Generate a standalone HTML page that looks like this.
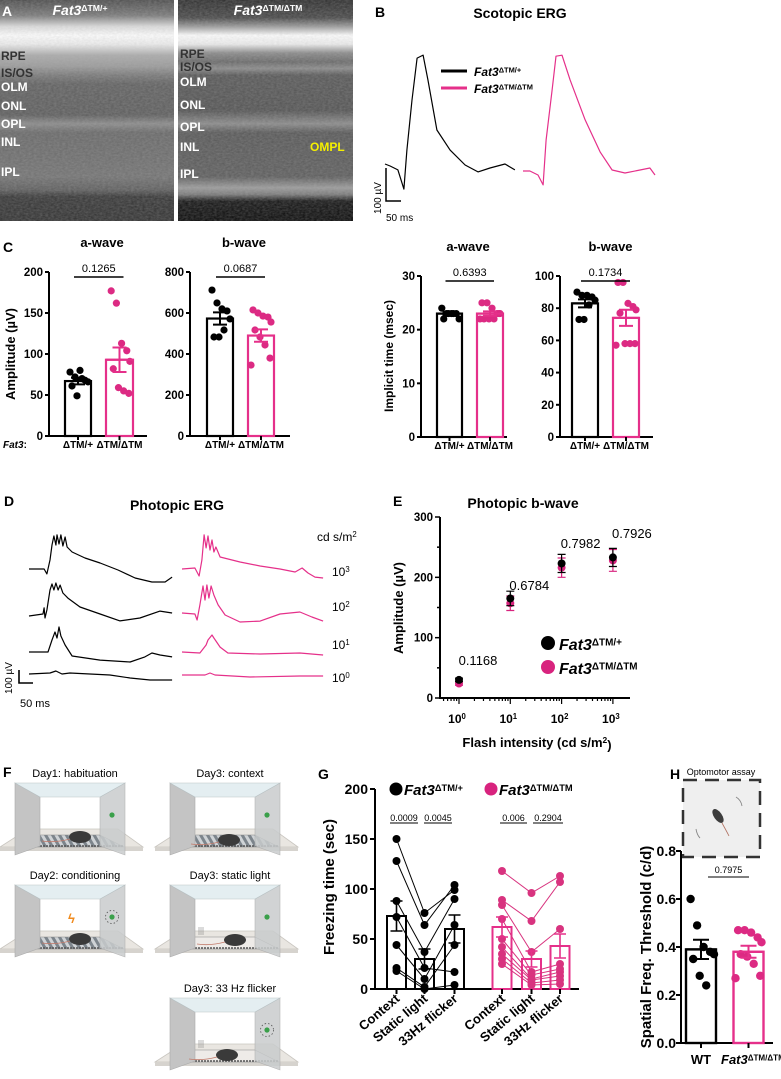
<!DOCTYPE html>
<html><head><meta charset="utf-8">
<style>
html,body{margin:0;padding:0;background:#fff;}
svg{display:block;font-family:"Liberation Sans",sans-serif;}
</style></head>
<body>
<svg id="fig" width="781" height="1079" viewBox="0 0 781 1079" xmlns="http://www.w3.org/2000/svg">
<defs>
<linearGradient id="gL" x1="0" y1="0" x2="0" y2="1">
<stop offset="0" stop-color="#4a4a4a"/><stop offset="0.07" stop-color="#777"/><stop offset="0.12" stop-color="#ddd"/><stop offset="0.16" stop-color="#fff"/><stop offset="0.2" stop-color="#eee"/><stop offset="0.25" stop-color="#aaa"/><stop offset="0.3" stop-color="#999"/><stop offset="0.34" stop-color="#777"/><stop offset="0.38" stop-color="#5e5e5e"/><stop offset="0.52" stop-color="#5a5a5a"/><stop offset="0.56" stop-color="#888"/><stop offset="0.6" stop-color="#666"/><stop offset="0.7" stop-color="#6a6a6a"/><stop offset="0.8" stop-color="#707070"/><stop offset="0.86" stop-color="#5a5a5a"/><stop offset="0.89" stop-color="#333"/><stop offset="1" stop-color="#2e2e2e"/>
</linearGradient>
<linearGradient id="gR" x1="0" y1="0" x2="0" y2="1">
<stop offset="0" stop-color="#2a2a2a"/><stop offset="0.08" stop-color="#444"/><stop offset="0.12" stop-color="#999"/><stop offset="0.16" stop-color="#fff"/><stop offset="0.2" stop-color="#eee"/><stop offset="0.24" stop-color="#888"/><stop offset="0.28" stop-color="#666"/><stop offset="0.31" stop-color="#888"/><stop offset="0.34" stop-color="#555"/><stop offset="0.5" stop-color="#505050"/><stop offset="0.56" stop-color="#888"/><stop offset="0.6" stop-color="#555"/><stop offset="0.8" stop-color="#5a5a5a"/><stop offset="0.85" stop-color="#999"/><stop offset="0.88" stop-color="#777"/><stop offset="0.91" stop-color="#111"/><stop offset="1" stop-color="#050505"/>
</linearGradient>
<filter id="noise" x="0" y="0" width="1" height="1">
<feTurbulence type="fractalNoise" baseFrequency="0.35 0.6" numOctaves="2" seed="4"/>
<feColorMatrix type="matrix" values="0 0 0 0 0.5 0 0 0 0 0.5 0 0 0 0 0.5 0 0 0 0.35 0"/>
<feComposite in2="SourceGraphic" operator="in"/>
</filter>
<pattern id="grid" width="6" height="6" patternUnits="userSpaceOnUse" patternTransform="rotate(-30)">
<rect width="6" height="6" fill="#cfd3d6"/><rect width="3" height="6" fill="#7d858c"/>
</pattern>
</defs>
</svg>
<script>
const NS='http://www.w3.org/2000/svg';
const svg=document.getElementById('fig');
function el(tag,attrs,parent){const e=document.createElementNS(NS,tag);for(const k in attrs)e.setAttribute(k,attrs[k]);(parent||svg).appendChild(e);return e;}
function txt(x,y,s,attrs,parent){const e=el('text',Object.assign({x:x,y:y},attrs||{}),parent);e.innerHTML=s;return e;}
const PINK='#e5308a';
const SUP_P='Fat3<tspan font-size="0.62em" dy="-0.45em" font-style="normal">ΔTM/+</tspan>';
const SUP_H='Fat3<tspan font-size="0.62em" dy="-0.45em" font-style="normal">ΔTM/ΔTM</tspan>';

/* ---------- DATA ---------- */
const scoT_wt=[0,17,43,63,73,90,107,127,143,173,217,267,310,350,400,433];
const scoV_wt=[0,-6,-18,-76,42,194,321,330,255,103,42,-3,-24,-12,0,-18];
const scoT_ko=[0,23,50,67,77,97,110,130,157,207,257,297,340,390,423,440];
const scoV_ko=[0,0,-12,-42,94,245,348,351,276,155,58,3,-6,3,9,-12];
const aAmp_wt=[78,72,80,68,66,61,49,70];
const aAmp_ko=[177,162,113,104,91,82,59,55,52];
const aAmpMean=[67,93];const aAmpSem=[4,15];
const bAmp_wt=[712,649,620,610,571,483,483,517];
const bAmp_ko=[615,600,585,580,556,517,483,444,380,346];
const bAmpMean=[573,490];const bAmpSem=[30,30];
const aImp_wt=[24,23,23,23,22,22,23,23];
const aImp_ko=[25,25,24,23,23,22,22,22,23,22];
const aImpMean=[23,23];const aImpSem=[0.3,0.4];
const bImp_wt=[90,88,88,87,85,73,73,82];
const bImp_ko=[96,96,83,81,79,77,58,58,58,57];
const bImpMean=[83,74];const bImpSem=[2.5,5];
const phT_wt3=[0,54,64,75,82,89,96,100,107,114,121,129,136,154,200,254,318,379,439,486,511];
const phV_wt3=[0,0,-38,69,185,254,185,262,192,262,177,246,169,131,85,46,-8,-69,-100,-100,-62];
const phT_wt2=[0,50,54,57,64,75,82,89,96,104,111,121,139,182,254,325,396,468,511];
const phV_wt2=[0,15,62,-15,46,200,246,200,254,200,238,177,138,69,15,-38,-15,38,23];
const phT_wt1=[0,68,82,93,100,107,114,129,154,254,361,414,439,468,511];
const phV_wt1=[0,0,92,154,108,192,123,54,-31,-62,-77,-38,-8,-23,-38];
const phT_wt0=[0,75,96,118,146,289,361,432,511];
const phV_wt0=[0,8,23,0,8,-8,-31,-46,-46];
const phT_ko3=[0,46,61,71,79,86,93,100,107,114,121,136,207,279,350,404,429,450,475,504];
const phV_ko3=[0,8,-54,69,262,162,254,146,223,131,169,92,54,23,0,-23,8,-31,-62,-69];
const phT_ko2=[0,46,54,64,75,82,89,96,104,114,129,154,207,279,350,421,464,504];
const phV_ko2=[0,-8,-54,62,208,100,215,115,208,138,62,-15,-69,-62,-8,8,-31,-62];
const phT_ko1=[0,64,86,93,107,114,136,164,279,421,504];
const phV_ko1=[0,-8,54,92,131,108,38,-8,-15,-8,-23];
const phT_ko0=[0,82,100,118,243,421,504];
const phV_ko0=[0,0,15,0,-15,-8,-8];
const eIntensity=[1,10,100,1000];
const eMean_wt=[30,165,223,233];const eSem_wt=[3,12,15,15];
const eMean_ko=[24,157,216,228];const eSem_ko=[3,12,16,18];
const ePvals=['0.1168','0.6784','0.7982','0.7926'];
const gCats=['Context','Static light','33Hz flicker'];
const gCtx_wt=[150,128,88,72,44,21,18];
const gSta_wt=[76,64,37,21,10,2,0];
const gFlk_wt=[99,104,90,17,64,44,4];
const gMean_wt=[73,30,60];const gSem_wt=[15,10,14];
const gCtx_ko=[118,89,84,70,50,42,35,30,25];
const gSta_ko=[96,68,37,17,14,10,9,6,4];
const gFlk_ko=[113,107,60,25,20,17,13,9,5];
const gMean_ko=[62,30,43];const gSem_ko=[10,8,12];
const gP=['0.0009','0.0045','0.006','0.2904'];
const h_wt=[0.6,0.49,0.4,0.38,0.37,0.35,0.28,0.24];
const h_ko=[0.47,0.47,0.46,0.44,0.42,0.37,0.36,0.33,0.28,0.27];
const hMean=[0.39,0.38];const hSem=[0.04,0.025];
const jit=[-8,-3,2,7,10,-6,-1,4,9,-10];

/* ---------- PANEL A ---------- */
let r,t,g;
r=el('rect',{x:0,y:0,width:174,height:221,fill:'url(#gL)'});


r=el('rect',{x:0,y:0,width:174,height:221,fill:'#fff',filter:'url(#noise)'});


r=el('rect',{x:178,y:0,width:175,height:221,fill:'url(#gR)'});


r=el('rect',{x:178,y:0,width:175,height:221,fill:'#fff',filter:'url(#noise)'});


t=txt(2,16,'A',{'font-weight':'bold','font-size':14,fill:'#fff'});


t=txt(80,15,SUP_P,{'font-weight':'bold','font-style':'italic','font-size':14,fill:'#fff','text-anchor':'middle'});


t=txt(268,15,SUP_H,{'font-weight':'bold','font-style':'italic','font-size':14,fill:'#fff','text-anchor':'middle'});


const layersL=[['RPE',55,'#333'],['IS/OS',72,'#333'],['OLM',86,'#fff'],['ONL',105,'#fff'],['OPL',123,'#fff'],['INL',141,'#fff'],['IPL',171,'#fff']];
const layersR=[['RPE',53,'#333'],['IS/OS',66,'#333'],['OLM',81,'#fff'],['ONL',104,'#fff'],['OPL',126,'#fff'],['INL',146,'#fff'],['IPL',173,'#fff']];
layersL.forEach(l=>{t=txt(1,l[1]+5,l[0],{'font-weight':'bold','font-size':12,fill:l[2]});

});
layersR.forEach(l=>{t=txt(180,l[1]+5,l[0],{'font-weight':'bold','font-size':12,fill:l[2]});

});
t=txt(310,151,'OMPL',{'font-weight':'bold','font-size':12,fill:'#f5f000'});



/* ---------- PANEL B ---------- */
t=txt(375,17,'B',{'font-weight':'bold','font-size':14});


t=txt(520,18,'Scotopic ERG',{'font-weight':'bold','font-size':14,'text-anchor':'middle'});


function trace(T,V,x0,y0,sx,sy,color,name){
  const d=T.map((tt,i)=>(i?'L':'M')+(x0+tt*sx).toFixed(1)+','+(y0-V[i]*sy).toFixed(1)).join(' ');
  const p=el('path',{d:d,fill:'none',stroke:color,'stroke-width':1.2,'stroke-linejoin':'round'});
  
  
  return p;
}
trace(scoT_wt,scoV_wt,385,164,0.3,0.33,'#000','scotopic-trace-control');
trace(scoT_ko,scoV_ko,523,171,0.3,0.33,PINK,'scotopic-trace-mutant');
r=el('line',{x1:441,y1:71,x2:467,y2:71,stroke:'#000','stroke-width':3});


t=txt(474,76,SUP_P,{'font-weight':'bold','font-style':'italic','font-size':12});


r=el('line',{x1:441,y1:88,x2:467,y2:88,stroke:PINK,'stroke-width':3});


t=txt(474,93,SUP_H,{'font-weight':'bold','font-style':'italic','font-size':12});


r=el('path',{d:'M386,168 L386,201 L401,201',fill:'none',stroke:'#000','stroke-width':1.5});


t=txt(0,0,'100 µV',{'font-size':10,'text-anchor':'middle',transform:'translate(381,198) rotate(-90)'});


t=txt(386,221,'50 ms',{'font-size':10});



/* ---------- PANEL C ---------- */
t=txt(3,252,'C',{'font-weight':'bold','font-size':14});


function barPanel(o){
  const ys=v=>o.yBot-(v/o.max)*(o.yBot-o.yTop);
  g=el('g',{});
  
  
  let e=txt((o.ax+o.axEnd)/2+4,o.yTop-25,o.title,{'font-weight':'bold','font-size':13,'text-anchor':'middle'},g);
  
  
  e=el('line',{x1:o.ax,y1:o.yTop,x2:o.ax,y2:o.yBot+1,stroke:'#000','stroke-width':2},g);
  
  
  e=el('line',{x1:o.ax-1,y1:o.yBot,x2:o.axEnd,y2:o.yBot,stroke:'#000','stroke-width':2},g);
  
  
  o.ticks.forEach(v=>{
    e=el('line',{x1:o.ax-4,y1:ys(v),x2:o.ax,y2:ys(v),stroke:'#000','stroke-width':2},g);
    
    
    e=txt(o.ax-6,ys(v)+4,String(v),{'font-weight':'bold','font-size':11.5,'text-anchor':'end'},g);
    
    
  });
  o.bars.forEach((b,i)=>{
    const c=i?PINK:'#000';
    e=el('rect',{x:b.cx-b.w/2,y:ys(o.mean[i]),width:b.w,height:o.yBot-ys(o.mean[i]),fill:'none',stroke:c,'stroke-width':2.2},g);
    
    
    e=el('line',{x1:b.cx,y1:o.yBot,x2:b.cx,y2:o.yBot+4,stroke:'#000','stroke-width':2},g);
    
    
    e=txt(b.cx,o.yBot+12,i?'ΔTM/ΔTM':'ΔTM/+',{'font-weight':'bold','font-size':10,'text-anchor':'middle'},g);
    
    
    const pts=i?o.ko:o.wt;
    pts.forEach((v,k)=>{
      e=el('circle',{cx:b.cx+jit[k%jit.length]*b.w/26,cy:ys(v),r:3.6,fill:i?'#dc2a83':'#000'},g);
      
      
    });
    const m=ys(o.mean[i]),hi=ys(o.mean[i]+o.sem[i]),lo=ys(o.mean[i]-o.sem[i]);
    e=el('path',{d:`M${b.cx},${lo} L${b.cx},${hi} M${b.cx-7},${hi} L${b.cx+7},${hi} M${b.cx-7},${lo} L${b.cx+7},${lo} M${b.cx-b.w/2},${m} L${b.cx+b.w/2},${m}`,stroke:c,'stroke-width':2,fill:'none'},g);
    
    
  });
  const x1=o.bars[0].cx-4,x2=o.bars[1].cx+4;
  e=el('line',{x1:x1,y1:o.yTop+5,x2:x2,y2:o.yTop+5,stroke:'#000','stroke-width':1.5},g);
  
  
  e=txt((x1+x2)/2,o.yTop,o.p,{'font-size':11,'text-anchor':'middle'},g);
  
  
}
barPanel({name:'a-wave-amplitude-chart',title:'a-wave',ax:49,axEnd:147,yTop:272,yBot:436,max:200,ticks:[0,50,100,150,200],bars:[{cx:78,w:26},{cx:119.5,w:27}],wt:aAmp_wt,ko:aAmp_ko,mean:aAmpMean,sem:aAmpSem,p:'0.1265'});
barPanel({name:'b-wave-amplitude-chart',title:'b-wave',ax:190,axEnd:290,yTop:272,yBot:436,max:800,ticks:[0,200,400,600,800],bars:[{cx:220,w:26},{cx:261,w:26}],wt:bAmp_wt,ko:bAmp_ko,mean:bAmpMean,sem:bAmpSem,p:'0.0687'});
barPanel({name:'a-wave-implicit-chart',title:'a-wave',ax:421,axEnd:507,yTop:276,yBot:437,max:30,ticks:[0,10,20,30],bars:[{cx:449.5,w:25},{cx:490,w:26}],wt:aImp_wt,ko:aImp_ko,mean:aImpMean,sem:aImpSem,p:'0.6393'});
barPanel({name:'b-wave-implicit-chart',title:'b-wave',ax:560,axEnd:653,yTop:276,yBot:437,max:100,ticks:[0,20,40,60,80,100],bars:[{cx:585,w:26},{cx:626,w:26}],wt:bImp_wt,ko:bImp_ko,mean:bImpMean,sem:bImpSem,p:'0.1734'});
t=txt(0,0,'Amplitude (µV)',{'font-weight':'bold','font-size':13,'text-anchor':'middle',transform:'translate(15,354) rotate(-90)'});


t=txt(0,0,'Implicit time (msec)',{'font-weight':'bold','font-size':12,'text-anchor':'middle',transform:'translate(393,356) rotate(-90)'});


t=txt(3,448,'Fat3',{'font-weight':'bold','font-style':'italic','font-size':10});
t.innerHTML='Fat3<tspan font-style="normal">:</tspan>';



/* ---------- PANEL D ---------- */
t=txt(4,506,'D',{'font-weight':'bold','font-size':14});


t=txt(177,510,'Photopic ERG',{'font-weight':'bold','font-size':14,'text-anchor':'middle'});


trace(phT_wt3,phV_wt3,29,569,0.28,0.13,'#000','photopic-trace-control-1000');
trace(phT_wt2,phV_wt2,29,616,0.28,0.13,'#000','photopic-trace-control-100');
trace(phT_wt1,phV_wt1,29,652,0.28,0.13,'#000','photopic-trace-control-10');
trace(phT_wt0,phV_wt0,29,674,0.28,0.13,'#000','photopic-trace-control-1');
trace(phT_ko3,phV_ko3,182,569,0.28,0.13,PINK,'photopic-trace-mutant-1000');
trace(phT_ko2,phV_ko2,182,613,0.28,0.13,PINK,'photopic-trace-mutant-100');
trace(phT_ko1,phV_ko1,182,652,0.28,0.13,PINK,'photopic-trace-mutant-10');
trace(phT_ko0,phV_ko0,182,675,0.28,0.13,PINK,'photopic-trace-mutant-1');
t=txt(317,541,'cd s/m<tspan font-size="0.65em" dy="-0.5em">2</tspan>',{'font-size':12});


[['3',576],['2',611],['1',649],['0',682]].forEach(a=>{
  t=txt(332,a[1],'10<tspan font-size="0.65em" dy="-0.5em">'+a[0]+'</tspan>',{'font-size':12});
  
  
});
r=el('path',{d:'M19,670 L19,683 L33,683',fill:'none',stroke:'#000','stroke-width':1.6});


t=txt(0,0,'100 µV',{'font-size':10,'text-anchor':'middle',transform:'translate(12,678) rotate(-90)'});


t=txt(20,707,'50 ms',{'font-size':11});



/* ---------- PANEL E ---------- */
t=txt(393,506,'E',{'font-weight':'bold','font-size':14});


t=txt(523,508,'Photopic b-wave',{'font-weight':'bold','font-size':14,'text-anchor':'middle'});


const eY=v=>698-v*181/300;
const eX=v=>459+Math.log10(v)*51.3;
r=el('line',{x1:440,y1:517,x2:440,y2:699,stroke:'#000','stroke-width':2});


r=el('line',{x1:439,y1:698,x2:630,y2:698,stroke:'#000','stroke-width':2});


[0,50,100,150,200,250,300].forEach(v=>{
  r=el('line',{x1:v%100?437:435,y1:eY(v),x2:440,y2:eY(v),stroke:'#000','stroke-width':1.5});
  
  
  if(v%100===0){t=txt(433,eY(v)+4,String(v),{'font-weight':'bold','font-size':11.5,'text-anchor':'end'});
  
  }
});
for(let dec=-1;dec<4;dec++){for(let m=1;m<10;m++){const v=m*Math.pow(10,dec);const x=eX(v);if(x<443||x>628)continue;
  r=el('line',{x1:x,y1:698,x2:x,y2:m===1?704:701,stroke:'#000','stroke-width':1.2});
  
  }}
eIntensity.forEach((v,i)=>{
  t=txt(eX(v)-2,723,'10<tspan font-size="0.65em" dy="-0.5em">'+Math.log10(v)+'</tspan>',{'font-weight':'bold','font-size':12,'text-anchor':'middle'});
  
  
});
t=txt(537,747,'Flash intensity (cd s/m<tspan font-size="0.65em" dy="-0.5em">2</tspan><tspan dy="0.5em">)</tspan>',{'font-weight':'bold','font-size':13,'text-anchor':'middle'});


t=txt(0,0,'Amplitude (µV)',{'font-weight':'bold','font-size':13,'text-anchor':'middle',transform:'translate(403,608) rotate(-90)'});


function errPts(means,sems,color,name){
  means.forEach((m,i)=>{const x=eX(eIntensity[i]);
    r=el('path',{d:`M${x},${eY(m-sems[i])} L${x},${eY(m+sems[i])} M${x-4},${eY(m-sems[i])} L${x+4},${eY(m-sems[i])} M${x-4},${eY(m+sems[i])} L${x+4},${eY(m+sems[i])}`,stroke:color,'stroke-width':1.2,fill:'none'});
    
    
    r=el('circle',{cx:x,cy:eY(m),r:4,fill:color});
    
    
  });
}
errPts(eMean_ko,eSem_ko,'#d8237e','point-mutant');
errPts(eMean_wt,eSem_wt,'#000','point-control');
const ePy=[660,585,543,533];
ePvals.forEach((p,i)=>{
  t=txt(eX(eIntensity[i])+19,ePy[i]+5,p,{'font-size':13,'text-anchor':'middle'});
  
  
});
r=el('circle',{cx:548,cy:643,r:7,fill:'#000'});


t=txt(559,650,SUP_P,{'font-weight':'bold','font-style':'italic','font-size':16});


r=el('circle',{cx:548,cy:667,r:7,fill:'#d8237e'});


t=txt(559,674,SUP_H,{'font-weight':'bold','font-style':'italic','font-size':16});



/* ---------- PANEL F ---------- */
t=txt(3,777,'F',{'font-weight':'bold','font-size':14});


function box(ox,oy,label,lx,opt){
  g=el('g',{transform:`translate(${ox},${oy})`});
  
  
  let e=txt(lx,-6,label,{'font-size':11,'text-anchor':'middle'},g);
  
  
  e=el('polygon',{points:'0,64 28,46 118,46 143,64',fill:'#e9e6e1',stroke:'#c9c6c0','stroke-width':0.8},g);
  
  
  e=el('rect',{x:0,y:64,width:143,height:4,fill:'#d6d3ce'},g);
  
  
  e=el('polygon',{points:'40,52 100,52 124,64 15,64',fill:opt.grid?'url(#grid)':'#eeebe8',stroke:'#888','stroke-width':0.6},g);
  
  
  e=el('line',{x1:40,y1:63,x2:124,y2:63,stroke:'#555','stroke-width':1.5,'stroke-dasharray':'2,1'},g);
  
  
  e=el('polygon',{points:'15,0 40,14 40,63 15,72',fill:'#c4c4c4',stroke:'#aaa','stroke-width':0.6},g);
  
  
  e=el('polygon',{points:'100,14 125,0 125,72 100,63',fill:'#c9cccd',stroke:'#aaa','stroke-width':0.6,opacity:0.85},g);
  
  
  e=el('polygon',{points:'15,0 125,0 100,14 40,14',fill:'#e4eef1',stroke:'#b9c3c6','stroke-width':0.6},g);
  
  
  e=el('circle',{cx:112,cy:opt.dotY||32,r:2.6,fill:'#3aa04a'},g);
  
  
  if(opt.flicker){e=el('circle',{cx:112,cy:opt.dotY||32,r:6.5,fill:'none',stroke:'#555','stroke-width':0.8,'stroke-dasharray':'1.5,2'},g);
  
  }
  e=el('ellipse',{cx:opt.mx,cy:opt.my,rx:11,ry:6,fill:'#3a3a3a'},g);
  
  
  e=el('path',{d:`M${opt.mx-10},${opt.my+2} Q${opt.mx-25},${opt.my+6} ${opt.mx-38},${opt.my+4}`,stroke:'#c27a6a','stroke-width':0.8,fill:'none'},g);
  
  
  if(opt.shock){e=txt(opt.mx-12,opt.my-16,'ϟ',{'font-size':13,fill:'#f08a1c','font-weight':'bold'},g);
  
  }
  if(opt.speaker){e=el('path',{d:'M44,42 L44,50 M46,42 L46,50 M48,42 L48,50',stroke:'#888','stroke-width':0.6},g);
  
  }
}
box(0,783,'Day1: habituation',75,{grid:true,mx:80,my:54});
box(155,783,'Day3: context',75,{grid:true,mx:74,my:57});
box(0,885,'Day2: conditioning',75,{grid:true,mx:80,my:54,shock:true,flicker:true});
box(155,885,'Day3: static light',75,{grid:false,mx:80,my:55,speaker:true});
box(155,998,'Day3: 33 Hz flicker',75,{grid:false,mx:72,my:57,speaker:true,flicker:true});

/* ---------- PANEL G ---------- */
t=txt(318,779,'G',{'font-weight':'bold','font-size':14});


const gY=v=>989-v;
const gX_wt=[396.5,424.5,454.5],gX_ko=[502,531.5,560];
r=el('line',{x1:375,y1:789,x2:375,y2:990,stroke:'#000','stroke-width':2});


r=el('line',{x1:374,y1:989,x2:579,y2:989,stroke:'#000','stroke-width':2});


[0,50,100,150,200].forEach(v=>{
  r=el('line',{x1:370,y1:gY(v),x2:375,y2:gY(v),stroke:'#000','stroke-width':2});
  
  
  t=txt(368,gY(v)+5,String(v),{'font-weight':'bold','font-size':14,'text-anchor':'end'});
  
  
});
t=txt(0,0,'Freezing time (sec)',{'font-weight':'bold','font-size':15,'text-anchor':'middle',transform:'translate(334,887) rotate(-90)'});


function gGroup(X,ctx,sta,flk,mean,sem,color,ptColor,name){
  const cols=[ctx,sta,flk];
  mean.forEach((m,i)=>{
    r=el('rect',{x:X[i]-9.5,y:gY(m),width:19,height:989-gY(m),fill:'#fff',stroke:color,'stroke-width':2});
    
    
  });
  ctx.forEach((v,k)=>{
    r=el('polyline',{points:cols.map((c,i)=>X[i]+','+gY(c[k])).join(' '),fill:'none',stroke:ptColor,'stroke-width':1});
    
    
  });
  cols.forEach((c,i)=>c.forEach(v=>{
    r=el('circle',{cx:X[i],cy:gY(v),r:4,fill:ptColor});
    
    
  }));
  mean.forEach((m,i)=>{
    r=el('path',{d:`M${X[i]},${gY(m-sem[i])} L${X[i]},${gY(m+sem[i])} M${X[i]-6},${gY(m+sem[i])} L${X[i]+6},${gY(m+sem[i])} M${X[i]-6},${gY(m-sem[i])} L${X[i]+6},${gY(m-sem[i])} M${X[i]-9.5},${gY(m)} L${X[i]+9.5},${gY(m)}`,stroke:color,'stroke-width':1.6,fill:'none'});
    
    
    r=el('line',{x1:X[i],y1:989,x2:X[i],y2:994,stroke:'#000','stroke-width':2});
    
    
    t=txt(0,0,gCats[i],{'font-weight':'bold','font-size':13,'text-anchor':'end',transform:`translate(${X[i]+4},${1000}) rotate(-40)`});
    
    
  });
}
gGroup(gX_wt,gCtx_wt,gSta_wt,gFlk_wt,gMean_wt,gSem_wt,'#000','#000','control');
gGroup(gX_ko,gCtx_ko,gSta_ko,gFlk_ko,gMean_ko,gSem_ko,PINK,'#d8337f','mutant');
const gPx=[[390,418],[424,452],[500,527],[533,563]];
gP.forEach((p,i)=>{
  r=el('line',{x1:gPx[i][0],y1:823,x2:gPx[i][1],y2:823,stroke:'#000','stroke-width':1});
  
  
  t=txt((gPx[i][0]+gPx[i][1])/2,821,p,{'font-size':9,'text-anchor':'middle'});
  
  
});
r=el('circle',{cx:396,cy:789,r:6.5,fill:'#000'});


t=txt(404,795,SUP_P,{'font-weight':'bold','font-style':'italic','font-size':15});


r=el('circle',{cx:491,cy:789,r:6.5,fill:'#d8237e'});


t=txt(499,795,SUP_H,{'font-weight':'bold','font-style':'italic','font-size':15});



/* ---------- PANEL H ---------- */
t=txt(670,779,'H',{'font-weight':'bold','font-size':14});


r=el('rect',{x:683,y:780,width:77,height:77,fill:'#efefef',stroke:'#333','stroke-width':2.5,'stroke-dasharray':'14,8'});


t=txt(721,775,'Optomotor assay',{'font-size':9,'text-anchor':'middle'});


r=el('ellipse',{cx:718,cy:816,rx:4,ry:8,fill:'#3d3d3d',transform:'rotate(-35 718 816)'});


r=el('path',{d:'M722,823 Q727,832 729,836',stroke:'#b07060','stroke-width':0.8,fill:'none'});


r=el('path',{d:'M736,797 Q741,800 742,806 M700,838 Q697,835 696,829',stroke:'#888','stroke-width':0.9,fill:'none'});


const hY=v=>1043-v*240;
r=el('line',{x1:681,y1:851,x2:681,y2:1044,stroke:'#000','stroke-width':2});


r=el('line',{x1:680,y1:1043,x2:773,y2:1043,stroke:'#000','stroke-width':2});


[0,0.2,0.4,0.6,0.8].forEach(v=>{
  r=el('line',{x1:676,y1:hY(v),x2:681,y2:hY(v),stroke:'#000','stroke-width':2});
  
  
  t=txt(676,hY(v)+5,v.toFixed(1),{'font-weight':'bold','font-size':14,'text-anchor':'end'});
  
  
});
t=txt(0,0,'Spatial Freq.  Threshold (c/d)',{'font-weight':'bold','font-size':15,'text-anchor':'middle','xml:space':'preserve',transform:'translate(651,947) rotate(-90)'});


const hX=[701,748.5];
[h_wt,h_ko].forEach((pts,i)=>{
  const c=i?PINK:'#000';
  r=el('rect',{x:hX[i]-15,y:hY(hMean[i]),width:30,height:1043-hY(hMean[i]),fill:'#fff',stroke:c,'stroke-width':2.4});
  
  
  pts.forEach((v,k)=>{
    r=el('circle',{cx:hX[i]+jit[k%jit.length]*1.3,cy:hY(v),r:4.2,fill:i?'#dc2a83':'#000'});
    
    
  });
  const m=hMean[i],s=hSem[i];
  r=el('path',{d:`M${hX[i]},${hY(m-s)} L${hX[i]},${hY(m+s)} M${hX[i]-8},${hY(m+s)} L${hX[i]+8},${hY(m+s)} M${hX[i]-8},${hY(m-s)} L${hX[i]+8},${hY(m-s)} M${hX[i]-15},${hY(m)} L${hX[i]+15},${hY(m)}`,stroke:c,'stroke-width':2,fill:'none'});
  
  
  r=el('line',{x1:hX[i],y1:1043,x2:hX[i],y2:1048,stroke:'#000','stroke-width':2});
  
  
});
t=txt(701,1064,'WT',{'font-weight':'bold','font-size':13,'text-anchor':'middle'});


t=txt(721,1064,SUP_H,{'font-weight':'bold','font-style':'italic','font-size':13});


r=el('line',{x1:708,y1:877,x2:749,y2:877,stroke:'#000','stroke-width':1});


t=txt(728.5,873,'0.7975',{'font-size':9,'text-anchor':'middle'});


</script>
</body></html>
